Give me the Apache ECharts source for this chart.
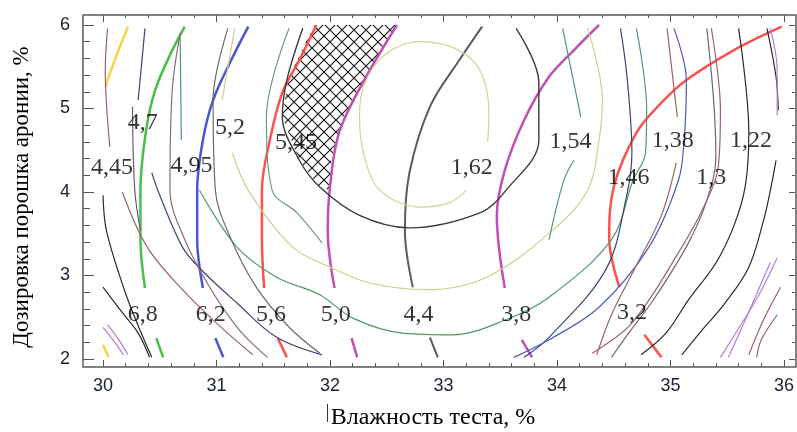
<!DOCTYPE html>
<html>
<head>
<meta charset="utf-8">
<script src="https://cdn.jsdelivr.net/npm/echarts@6/dist/echarts.min.js"></script>
<style>
  html, body { margin: 0; background: #fff; }
  #chart { width: 797px; height: 432px; }
</style>
</head>
<body>
<div id="chart"></div>
<script>
// contour lines, [moisture %, dosage %]; null = gap for a label
const lineYellow = [[30.22, 5.98], [30.12, 5.64], [30.02, 5.26], null, [30.00, 2.17], [30.05, 2.02]]
const lineGreen = [[30.72, 5.98], [30.59, 5.64], [30.46, 5.22], [30.38, 4.74], [30.33, 4.02], [30.33, 3.43], [30.37, 2.85], null, [30.47, 2.25], [30.53, 2.02]]
const lineBlue = [[31.28, 5.98], [31.13, 5.58], [30.97, 5.10], [30.88, 4.62], [30.83, 4.02], [30.83, 3.43], [30.88, 2.85], null, [30.99, 2.25], [31.06, 2.02]]
const lineRed = [[31.88, 6.00], [31.73, 5.58], [31.58, 5.19], [31.47, 4.62], [31.40, 4.02], [31.40, 3.43], [31.42, 2.85], null, [31.54, 2.25], [31.62, 2.02]]
const lineMagenta = [[32.59, 6.00], [32.29, 5.31], [32.08, 4.71], [32.00, 4.06], [31.98, 3.54], [32.04, 2.85], null, [32.19, 2.25], [32.24, 2.02]]
const lineDark = [[33.34, 5.98], [33.14, 5.58], [32.88, 5.02], [32.70, 4.23], [32.66, 3.54], [32.73, 2.86], null, [32.88, 2.26], [32.95, 2.02]]
const lineMagenta2 = [[34.37, 6.00], [34.15, 5.70], [33.93, 5.38], [33.71, 4.86], [33.54, 4.26], [33.47, 3.72], [33.54, 2.85], null, [33.69, 2.23], [33.78, 2.02]]
const lineRed2 = [[35.98, 5.98], [35.56, 5.70], [35.14, 5.34], [34.90, 5.04], [34.70, 4.71], [34.50, 4.06], [34.46, 3.43], [34.55, 2.86], null, [34.77, 2.29], [34.92, 2.02]]

const ellipseInner = [[33.39, 4.60], [33.40, 4.95], [33.32, 5.46], [33.10, 5.72], [32.79, 5.80], [32.48, 5.64], [32.30, 5.28], [32.26, 4.90], [32.30, 4.44], [32.44, 4.02], [32.79, 3.82], [33.05, 3.87], [33.20, 4.02]]
const ellipseDark = [[31.76, 5.96], [31.62, 5.34], [31.58, 4.90], [31.73, 4.38], [31.91, 4.06], [32.26, 3.72], [32.70, 3.57], [33.32, 3.75], [33.55, 4.02], [33.84, 4.62], [33.84, 5.31], [33.64, 5.96]]
const uKhaki = [[31.16, 5.96], [31.05, 5.10], null, [31.14, 4.47], [31.28, 4.02], [31.67, 3.34], [32.00, 3.10], [32.35, 2.91], [32.85, 2.83], [33.38, 2.98], [33.96, 3.54], [34.27, 4.02], [34.37, 4.62], [34.40, 5.10], [34.27, 5.96]]
const uGreen = [[30.68, 5.86], [30.69, 4.62], null, [30.85, 4.02], [31.18, 3.34], [31.53, 2.98], [31.91, 2.77], [32.20, 2.49], [32.64, 2.31], [33.08, 2.29], [33.55, 2.47], [33.93, 2.74], [34.48, 3.43], [34.67, 4.14], [34.78, 4.47], [34.79, 4.98], [34.70, 5.96]]
const greenGrayLeft = [[31.64, 5.96], [31.44, 4.90], [31.49, 4.02], [31.71, 3.75], [31.93, 3.39]]
const greenRight = [[34.05, 5.96], [34.21, 4.90], null, [34.15, 4.38], [34.06, 4.14], [33.93, 3.43]]

const brownLeft = [[30.04, 5.96], [30.02, 5.46], [30.06, 4.54], null, [30.17, 4.00], [30.39, 3.34], [30.70, 2.83], [31.00, 2.43], [31.32, 2.05]]
const navyLeft = [[30.37, 5.96], [30.31, 5.10], null, [30.43, 4.23], [30.50, 3.96], [30.70, 3.34], [30.85, 3.09], [31.18, 2.67], [31.53, 2.26], [31.93, 2.05]]
const grayPurple = [[30.26, 5.02], [30.28, 4.02], [30.33, 3.54]]
const blackLeft = [[30.00, 3.96], [30.03, 3.54], [30.18, 2.86], [30.30, 2.43], [30.43, 2.02]]
const blackLeft2 = [[30.00, 2.86], [30.15, 2.59], [30.31, 2.31], [30.41, 2.02]]
const mauveLeft = [[30.68, 5.90], [30.61, 5.22], [30.59, 4.02], [30.72, 3.43], [30.94, 2.86], [31.20, 2.35], [31.45, 2.02]]
const grayLeft = [[31.10, 5.96], [30.97, 5.10], [30.99, 4.02], [31.12, 3.46], [31.35, 2.86], [31.64, 2.38], [31.91, 2.07]]
const purpleLeft = [[30.00, 2.38], [30.11, 2.19], [30.18, 2.05]]
const purpleLeft2 = [[30.04, 2.41], [30.13, 2.25], [30.22, 2.05]]

const navyRight = [[34.56, 5.96], [34.62, 5.34], [34.66, 4.47], [34.61, 3.93], [34.43, 3.07], [33.93, 2.26], [33.71, 2.02]]
const blueRight = [[35.03, 5.96], [35.14, 5.34], [35.12, 4.62], [35.07, 4.14], [34.81, 3.34], [34.37, 2.62], [33.93, 2.23], [33.62, 2.02]]
const brownRight = [[34.97, 5.96], [35.06, 4.90], null, [35.05, 4.35], [34.92, 3.72], [34.68, 3.07], [34.48, 2.53], [34.35, 2.05]]
const grayRight = [[35.32, 5.96], [35.38, 5.10], [35.40, 4.42], [35.32, 3.90], [35.15, 3.37], [34.85, 2.71], [34.62, 2.29], [34.48, 2.02]]
const brownRight2 = [[35.36, 5.96], [35.44, 4.98], [35.42, 4.29], [35.30, 3.84], [35.10, 3.34], [34.66, 2.43], [34.31, 2.07]]
const blackRight = [[35.60, 5.96], [35.69, 4.71], [35.66, 4.08], [35.56, 3.60], [35.40, 3.15], [35.16, 2.71], [34.96, 2.31], [34.74, 2.05]]
const blackRight2 = [[35.85, 5.96], [35.93, 5.38], [35.95, 4.98], null, [35.93, 4.38], [35.88, 4.02], [35.82, 3.66], [35.69, 3.10], [35.47, 2.65], [35.28, 2.35], [35.10, 2.05]]
const purpleTop = [[35.88, 5.96], [35.94, 5.46], [35.94, 4.92]]
const purpleBottom = [[35.94, 3.21], [35.78, 2.77], [35.62, 2.41], [35.44, 2.02]]
const purpleBottom2 = [[35.88, 3.16], [35.65, 2.44], [35.51, 2.02]]
const brownFar = [[35.97, 2.86], [35.82, 2.47], [35.69, 2.05]]
const brownFar2 = [[35.94, 2.53], [35.80, 2.23], [35.76, 2.02]]

// hatched region
const hatchBoundary = [[31.86, 6.00], [31.73, 5.64], [31.63, 5.34], [31.58, 4.90], [31.73, 4.38], [31.91, 4.06], [32.00, 4.02], [32.01, 4.38], [32.08, 4.71], [32.29, 5.31], [32.59, 6.00]]

// contour labels
const labelTexts = ['4,45', '4,7', '4,95', '5,2', '5,45', '1,62', '1,54', '1,46', '1,38', '1,3', '1,22',
  '6,8', '6,2', '5,6', '5,0', '4,4', '3,8', '3,2']
const labelPos = [[30.08, 4.29], [30.35, 4.83], [30.78, 4.32], [31.12, 4.77], [31.70, 4.59], [33.25, 4.29],
  [34.12, 4.60], [34.63, 4.17], [35.02, 4.61], [35.36, 4.17], [35.71, 4.61],
  [30.35, 2.53], [30.95, 2.53], [31.48, 2.53], [32.05, 2.53], [32.78, 2.53], [33.64, 2.53], [34.66, 2.56]]

const thick = 2.5
const thin = 1.2
const curves = [
  { pts: lineYellow, color: '#f2d54a', width: thick },
  { pts: lineGreen, color: '#48bf4a', width: thick },
  { pts: lineBlue, color: '#4a55cf', width: thick },
  { pts: lineRed, color: '#ff5050', width: thick },
  { pts: lineMagenta, color: '#c24fb5', width: thick },
  { pts: lineDark, color: '#5c5c5c', width: 2 },
  { pts: lineMagenta2, color: '#c24fb5', width: thick },
  { pts: lineRed2, color: '#ff5050', width: thick },
  { pts: ellipseInner, color: '#d2d296', width: thin },
  { pts: ellipseDark, color: '#3a3a3a', width: 1.4 },
  { pts: uKhaki, color: '#cfcf8a', width: thin },
  { pts: uGreen, color: '#4f9a68', width: thin },
  { pts: greenGrayLeft, color: '#6f9a80', width: thin },
  { pts: greenRight, color: '#4f9a68', width: thin },
  { pts: brownLeft, color: '#9a6464', width: thin },
  { pts: navyLeft, color: '#3d4575', width: thin },
  { pts: grayPurple, color: '#6a5a70', width: thin },
  { pts: blackLeft, color: '#2a2a2a', width: thin },
  { pts: blackLeft2, color: '#2a2a2a', width: thin },
  { pts: mauveLeft, color: '#8a6a78', width: thin },
  { pts: grayLeft, color: '#6a6a6a', width: thin },
  { pts: purpleLeft, color: '#b27fd6', width: thin },
  { pts: purpleLeft2, color: '#b27fd6', width: thin },
  { pts: navyRight, color: '#3d4575', width: thin },
  { pts: blueRight, color: '#4a5ab8', width: thin },
  { pts: brownRight, color: '#9a6464', width: thin },
  { pts: grayRight, color: '#6a6a6a', width: thin },
  { pts: brownRight2, color: '#9a6464', width: thin },
  { pts: blackRight, color: '#2a2a2a', width: thin },
  { pts: blackRight2, color: '#2a2a2a', width: thin },
  { pts: purpleTop, color: '#b27fd6', width: thin },
  { pts: purpleBottom, color: '#b27fd6', width: thin },
  { pts: purpleBottom2, color: '#b27fd6', width: thin },
  { pts: brownFar, color: '#9a6464', width: thin },
  { pts: brownFar2, color: '#9a6464', width: thin }
]

const splitSegments = (pts) => {
  const segs = [[]]
  pts.forEach((p) => {
    if (p === null) segs.push([])
    else segs[segs.length - 1].push(p)
  })
  return segs.filter((s) => s.length > 1)
}

// cross hatch pattern
const hatchCanvas = document.createElement('canvas')
hatchCanvas.width = 12
hatchCanvas.height = 12
const hctx = hatchCanvas.getContext('2d')
hctx.strokeStyle = '#1a1a1a'
hctx.lineWidth = 1.2
hctx.beginPath()
hctx.moveTo(0, 0); hctx.lineTo(12, 12)
hctx.moveTo(12, 0); hctx.lineTo(0, 12)
hctx.stroke()

const series = []
series.push({
  type: 'custom',
  silent: true,
  z: 1,
  data: [hatchBoundary[0]],
  renderItem: (params, api) => ({
    type: 'polygon',
    shape: { points: hatchBoundary.map((p) => api.coord(p)) },
    style: { fill: { image: hatchCanvas, repeat: 'repeat' }, stroke: null }
  })
})
curves.forEach((c) => {
  splitSegments(c.pts).forEach((seg) => {
    series.push({
      type: 'line',
      data: seg,
      smooth: 0.35,
      symbol: 'none',
      silent: true,
      z: 3,
      lineStyle: { color: c.color, width: c.width }
    })
  })
})
series.push({
  type: 'scatter',
  symbolSize: 1,
  silent: true,
  z: 5,
  itemStyle: { color: 'rgba(0,0,0,0)' },
  data: labelPos.map((p, i) => ({ value: p, name: labelTexts[i] })),
  label: {
    show: true,
    position: 'inside',
    formatter: '{b}',
    fontFamily: 'Liberation Serif',
    fontSize: 24,
    color: '#000'
  }
})

const tickColor = '#555'
const chart = echarts.init(document.getElementById('chart'))
chart.setOption({
  animation: false,
  grid: { left: 103, right: 12, top: 25, bottom: 73 },
  xAxis: [
    {
      type: 'value', min: 30, max: 36, interval: 1, position: 'bottom', offset: 8,
      axisLine: { show: false },
      axisTick: { inside: true, length: 7, lineStyle: { color: tickColor } },
      minorTick: { show: true, splitNumber: 5, length: 4, lineStyle: { color: tickColor } },
      splitLine: { show: false },
      axisLabel: { margin: 10, fontFamily: 'Liberation Sans', fontSize: 18, color: '#1a2030' }
    },
    {
      type: 'value', min: 30, max: 36, interval: 1, position: 'top', offset: 10,
      axisLine: { show: false },
      axisTick: { inside: true, length: 7, lineStyle: { color: tickColor } },
      minorTick: { show: true, splitNumber: 5, length: 3, lineStyle: { color: tickColor } },
      splitLine: { show: false },
      axisLabel: { show: false }
    }
  ],
  yAxis: [
    {
      type: 'value', min: 2, max: 6, interval: 1, position: 'left', offset: 20,
      axisLine: { show: false },
      axisTick: { inside: true, length: 11, lineStyle: { color: tickColor } },
      minorTick: { show: true, splitNumber: 5, length: 7, lineStyle: { color: tickColor } },
      splitLine: { show: false },
      axisLabel: { margin: 13, fontFamily: 'Liberation Sans', fontSize: 18, color: '#1a2030' }
    },
    {
      type: 'value', min: 2, max: 6, interval: 1, position: 'right', offset: 11,
      axisLine: { show: false },
      axisTick: { inside: true, length: 6, lineStyle: { color: tickColor } },
      minorTick: { show: true, splitNumber: 5, length: 3, lineStyle: { color: tickColor } },
      splitLine: { show: false },
      axisLabel: { show: false }
    }
  ],
  graphic: [
    {
      type: 'rect', z: 10, silent: true,
      shape: { x: 83, y: 15, width: 713, height: 352 },
      style: { fill: null, stroke: '#5a5a5a', lineWidth: 1.5 }
    },
    {
      type: 'text', z: 10, silent: true, x: 433, y: 418,
      style: { text: 'Влажность теста, %', font: '24px "Liberation Serif"', fill: '#000', align: 'center', verticalAlign: 'middle' }
    },
    {
      type: 'line', z: 10, silent: true,
      shape: { x1: 327.5, y1: 404, x2: 327.5, y2: 422 },
      style: { stroke: '#333', lineWidth: 1 }
    },
    {
      type: 'text', z: 10, silent: true, x: 22, y: 197, rotation: Math.PI / 2,
      style: { text: 'Дозировка порошка аронии, %', font: '23px "Liberation Serif"', fill: '#000', align: 'center', verticalAlign: 'middle' }
    }
  ],
  series: series
})
</script>
</body>
</html>
